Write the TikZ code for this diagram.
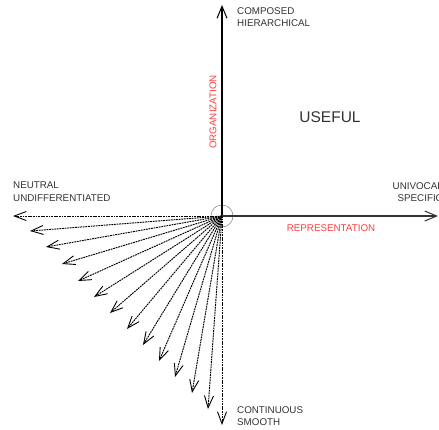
\documentclass[tikz,border=0pt]{standalone}
\usepackage{fontspec}
\setmainfont{Liberation Sans}
\usetikzlibrary{arrows.meta}
\definecolor{gristexte}{HTML}{333333}
\definecolor{rouge}{HTML}{FF4040}
\begin{document}
\begin{tikzpicture}[x=1pt, y=-1pt]
			\tikzset{axe/.style={line width=1.1pt, -{Straight Barb[length=12pt, width=10pt, line width=1pt]}},
				fleche/.style={line width=0.95pt, dash pattern=on 1.8pt off 0.8pt, -{Straight Barb[length=12pt, width=9pt, line width=0.9pt]}},
				texte/.style={inner sep=0pt, text=gristexte, font=\fontsize{9.8}{12.3}\selectfont},
				rouge/.style={inner sep=0pt, text=rouge, font=\fontsize{9.8}{12.3}\selectfont}};

			\useasboundingbox (0,0) rectangle (439,429);

			\coordinate (o) at (222, 216);
			\coordinate (haut) at (222, 5);
			\coordinate (droite) at (438, 216);

			\coordinate (t0)  at ( 13, 216);
			\coordinate (t1)  at ( 30, 231);
			\coordinate (t2)  at ( 46, 247);
			\coordinate (t3)  at ( 62, 264);
			\coordinate (t4)  at ( 78, 281);
			\coordinate (t5)  at ( 94, 297);
			\coordinate (t6)  at (110, 313);
			\coordinate (t7)  at (127, 329);
			\coordinate (t8)  at (143, 345);
			\coordinate (t9)  at (159, 361);
			\coordinate (t10) at (175, 377);
			\coordinate (t11) at (192, 393);
			\coordinate (t12) at (208, 409);
			\coordinate (t13) at (222, 425);

			\node[texte, align=left, anchor=north west] (compose) at (237,   7) {COMPOSED\\HIERARCHICAL};
			\node[texte, align=left, anchor=north west] (neutre)  at ( 13, 182) {NEUTRAL\\UNDIFFERENTIATED};
			\node[texte, align=right, anchor=north east] (univoque) at (443, 182) {UNIVOCAL\\SPECIFIC};
			\node[texte, align=left, anchor=north west] (continu) at (237, 406) {CONTINUOUS\\SMOOTH};
			\node[texte, font=\fontsize{15.5}{18}\selectfont] (utile) at (330, 117) {USEFUL};
			\node[rouge] (repr) at (331, 228) {REPRESENTATION};
			\node[rouge, rotate=90] (orga) at (213, 112) {ORGANIZATION};

			\draw[gray, line width=0.5pt] (o) circle (11);

			\draw[axe] (o) to (haut);
			\draw[axe, gristexte, line width=1.5pt] (o) to (droite);

			\draw[fleche] (o) to (t0);
			\draw[fleche] (o) to (t1);
			\draw[fleche] (o) to (t2);
			\draw[fleche] (o) to (t3);
			\draw[fleche] (o) to (t4);
			\draw[fleche] (o) to (t5);
			\draw[fleche] (o) to (t6);
			\draw[fleche] (o) to (t7);
			\draw[fleche] (o) to (t8);
			\draw[fleche] (o) to (t9);
			\draw[fleche] (o) to (t10);
			\draw[fleche] (o) to (t11);
			\draw[fleche] (o) to (t12);
			\draw[fleche] (o) to (t13);

\end{tikzpicture}
\end{document}
